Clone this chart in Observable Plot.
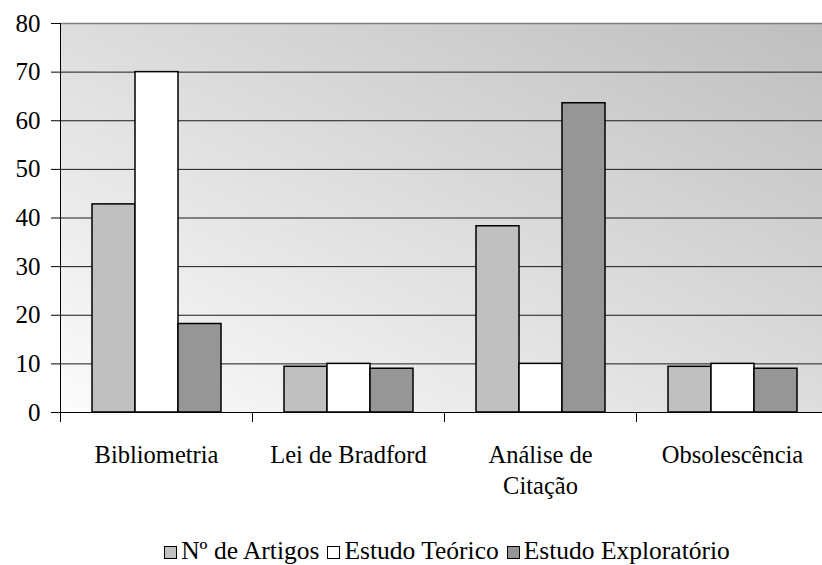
<!DOCTYPE html>
<html>
<head>
<meta charset="utf-8">
<script src="https://cdn.jsdelivr.net/npm/d3@7"></script>
<script src="https://cdn.jsdelivr.net/npm/@observablehq/plot@0.6"></script>
<style>
  html, body { margin: 0; padding: 0; background: #fff; overflow: hidden; }
  #chart { width: 822px; }
  .legend { display: flex; justify-content: center; align-items: flex-end; padding-left: 72px;
    margin-top: 26px; font-family: "Liberation Serif", "Times New Roman", serif; font-size: 25.5px; line-height: 30px; color: #000; }
  .legend .item { display: flex; align-items: center; margin: 0 4px; }
  .legend .sw { width: 11px; height: 11px; border: 1.5px solid #000; margin-right: 4px; margin-top: 3px; }
</style>
</head>
<body>
<div id="chart"></div>
<script>
const categories = ["Bibliometria", "Lei de Bradford", "Análise de\nCitação", "Obsolescência"];
const series = ["Nº de Artigos", "Estudo Teórico", "Estudo Exploratório"];
const nArtigos = [42.8, 9.4, 38.3, 9.4];
const estudoTeorico = [70, 10, 10, 10];
const estudoExploratorio = [18.2, 9.0, 63.6, 9.0];
const yTicks = [0, 10, 20, 30, 40, 50, 60, 70, 80];
const seriesColors = ["#c0c0c0", "#ffffff", "#969696"];

const seriesValues = [nArtigos, estudoTeorico, estudoExploratorio];
const data = [];
categories.forEach((c, i) => {
  series.forEach((s, k) => data.push({category: c, series: s, value: seriesValues[k][i]}));
});

const plot = Plot.plot({
  width: 822,
  height: 510,
  marginLeft: 60,
  marginRight: -6,
  marginTop: 23,
  marginBottom: 98,
  style: {fontFamily: "'Liberation Serif', 'Times New Roman', serif", color: "#000", background: "transparent", overflow: "visible"},
  fx: {domain: categories, padding: 0, label: null},
  x: {domain: series, paddingInner: 0, paddingOuter: 0.73, axis: null},
  y: {domain: [0, 80], label: null},
  color: {domain: series, range: seriesColors},
  marks: [
    Plot.ruleY(yTicks.filter(d => d > 0 && d < 80), {stroke: "#1a1a1a", strokeWidth: 1}),
    Plot.ruleY([80], {stroke: "#808080", strokeWidth: 1.5}),
    Plot.barY(data, {fx: "category", x: "series", y: "value", fill: "series", stroke: "#000", strokeWidth: 1.5}),
    Plot.ruleY([0], {stroke: "#000", strokeWidth: 1}),
    Plot.frame({anchor: "left", facetAnchor: "left", stroke: "#000", strokeWidth: 1, insetBottom: -9}),
    Plot.frame({anchor: "left", stroke: "#000", strokeWidth: 1, insetTop: 389, insetBottom: -9}),
    Plot.axisY(yTicks, {tickSize: 9, tickPadding: 11, fontSize: 25, stroke: "#000", label: null}),
    Plot.axisFx({anchor: "bottom", tickSize: 0, tickPadding: 29, fontSize: 24.5, lineHeight: 1.25, label: null})
  ]
});

// gradient background behind the plot area, positioned from the plot's own scales
const ns = "http://www.w3.org/2000/svg";
const fxR = plot.scale("fx").range;
const yR = plot.scale("y").range;
const defs = document.createElementNS(ns, "defs");
defs.innerHTML = '<linearGradient id="bggrad" x1="0" y1="1" x2="1" y2="0">' +
  '<stop offset="0" stop-color="#fcfcfc"/><stop offset="1" stop-color="#bebebe"/></linearGradient>';
const bg = document.createElementNS(ns, "rect");
bg.setAttribute("x", Math.min(...fxR));
bg.setAttribute("y", Math.min(...yR));
bg.setAttribute("width", Math.abs(fxR[1] - fxR[0]));
bg.setAttribute("height", Math.abs(yR[1] - yR[0]));
bg.setAttribute("fill", "url(#bggrad)");
const styleEl = plot.querySelector("style");
plot.insertBefore(bg, styleEl ? styleEl.nextSibling : plot.firstChild);
plot.insertBefore(defs, bg);

document.getElementById("chart").appendChild(plot);

const legend = document.createElement("div");
legend.className = "legend";
series.forEach((s, k) => {
  const item = document.createElement("div");
  item.className = "item";
  const sw = document.createElement("span");
  sw.className = "sw";
  sw.style.background = seriesColors[k];
  const t = document.createElement("span");
  t.textContent = s;
  item.appendChild(sw);
  item.appendChild(t);
  legend.appendChild(item);
});
document.getElementById("chart").appendChild(legend);
</script>
</body>
</html>
